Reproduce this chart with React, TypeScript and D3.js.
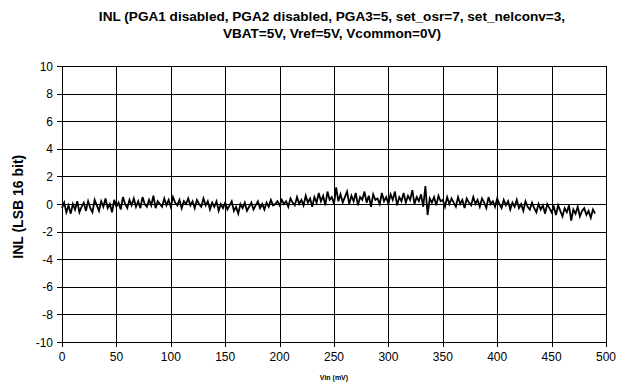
import React from "react";
import * as d3 from "d3";

const titleLines = [
  "INL (PGA1 disabled, PGA2 disabled, PGA3=5, set_osr=7, set_nelconv=3,",
  "VBAT=5V, Vref=5V, Vcommon=0V)",
];
const xTicks = [0, 50, 100, 150, 200, 250, 300, 350, 400, 450, 500];
const yTicks = [-10, -8, -6, -4, -2, 0, 2, 4, 6, 8, 10];
const xLabel = "Vin (mV)";
const yLabel = "INL (LSB 16 bit)";
const vinStep = 2; // mV between samples
const inlValues = [
  -0.3, 0.1, -0.6, -0.1, -0.7, 0.0, -0.4, 0.2, -0.6, -0.2,
  0.1, -0.5, 0.2, -0.3, -0.6, 0.3, -0.1, -0.5, 0.2, -0.2,
  0.4, -0.3, 0.0, -0.6, 0.3, -0.2, 0.1, -0.4, 0.5, 0.0,
  -0.3, 0.3, -0.1, 0.4, -0.2, 0.2, -0.3, 0.5, 0.0, -0.2,
  0.3, -0.1, 0.6, -0.3, 0.2, 0.0, -0.2, 0.4, -0.1, 0.3,
  -0.2, 0.5, 0.1, -0.1, 0.3, -0.3, 0.2, 0.0, 0.4, -0.1,
  0.2, -0.3, 0.3, 0.0, -0.2, 0.4, -0.1, 0.2, -0.4, 0.1,
  -0.2, 0.2, -0.5, 0.0, -0.3, 0.1, -0.4, -0.1, 0.2, -0.5,
  -0.2, -0.7, 0.0, -0.3, 0.1, -0.5, -0.2, 0.1, -0.4, -0.1,
  0.2, -0.3, 0.0, -0.4, 0.1, -0.2, 0.3, -0.1, 0.0, 0.2,
  -0.1, 0.3, 0.0, 0.2, -0.2, 0.4, 0.1, -0.1, 0.5, 0.0,
  0.3, -0.1, 0.6, 0.1, 0.4, -0.2, 0.5, 0.1, 0.8, 0.2,
  0.6, -0.1, 0.9, 0.3, 0.5, 0.0, 1.2, 0.2, 0.7, 0.1,
  0.5, 0.9, 0.0, 0.6, 0.2, 0.8, -0.1, 0.5, 0.3, 0.9,
  0.1, 0.6, -0.2, 0.7, 0.3, 0.4, 0.0, 0.8, 0.2, 0.5,
  0.0, 0.7, 0.3, 0.9, -0.1, 0.5, 0.2, 0.8, 0.1, 0.6,
  0.3, 1.0, 0.0, 0.5, 0.2, 0.7, -0.2, 1.3, -0.8, 0.4,
  0.1, 0.5, -0.1, 0.6, 0.2, 0.3, -0.2, 0.5, 0.0, 0.4,
  0.1, -0.2, 0.5, 0.0, 0.3, -0.3, 0.4, 0.1, -0.1, 0.5,
  0.0, 0.3, -0.2, 0.4, 0.1, -0.3, 0.5, 0.0, 0.2, -0.2,
  0.4, 0.0, -0.3, 0.3, -0.1, 0.2, -0.4, 0.1, -0.2, 0.3,
  -0.3, 0.0, -0.5, 0.2, -0.2, -0.4, 0.1, -0.3, -0.6, 0.0,
  -0.4, -0.1, -0.7, 0.0, -0.3, -0.6, -0.2, -0.8, -0.1, -0.5,
  -0.9, -0.3, -0.6, -0.1, -1.2, -0.4, -0.7, -0.2, -0.9, -0.5,
  -0.3, -0.8, -0.5, -1.0, -0.4, -0.7,
];

const W = 623;
const H = 383;
const FONT = "'Liberation Sans', Arial, sans-serif";

export default function App() {
  const x = d3.scaleLinear().domain([0, 500]).range([62, 606]);
  const y = d3.scaleLinear().domain([-10, 10]).range([342, 66]);
  const data = inlValues.map((v, i) => [i * vinStep, v] as [number, number]);
  const line = d3
    .line<[number, number]>()
    .x((d) => x(d[0]))
    .y((d) => y(d[1]));

  return (
    <svg
      width={W}
      height={H}
      style={{ position: "absolute", left: 0, top: 0, background: "#fff" }}
      fontFamily={FONT}
    >
      <rect x={0} y={0} width={W} height={H} fill="#fff" />
      {titleLines.map((t, i) => (
        <text
          key={i}
          x={332}
          y={21 + i * 17}
          textAnchor="middle"
          fontSize={13.6}
          fontWeight="bold"
        >
          {t}
        </text>
      ))}
      {yTicks.map((t) => (
        <line
          key={"gy" + t}
          x1={x(0) - 5}
          x2={x(500)}
          y1={Math.round(y(t)) + 0.5}
          y2={Math.round(y(t)) + 0.5}
          stroke="#000"
          strokeWidth={1}
        />
      ))}
      {xTicks.map((t) => (
        <line
          key={"gx" + t}
          x1={Math.round(x(t)) + 0.5}
          x2={Math.round(x(t)) + 0.5}
          y1={y(10)}
          y2={y(-10) + 5}
          stroke="#000"
          strokeWidth={1}
        />
      ))}
      {yTicks.map((t) => (
        <text
          key={"ty" + t}
          x={53}
          y={y(t) + 4.5}
          textAnchor="end"
          fontSize={12}
        >
          {t}
        </text>
      ))}
      {xTicks.map((t) => (
        <text
          key={"tx" + t}
          x={x(t)}
          y={y(-10) + 19}
          textAnchor="middle"
          fontSize={12}
        >
          {t}
        </text>
      ))}
      <text
        x={x(250)}
        y={380}
        textAnchor="middle"
        fontSize={7}
        fontWeight="bold"
      >
        {xLabel}
      </text>
      <text
        transform={`translate(23,${y(-0.2)}) rotate(-90)`}
        textAnchor="middle"
        fontSize={14}
        fontWeight="bold"
      >
        {yLabel}
      </text>
      <path d={line(data) || ""} fill="none" stroke="#000" strokeWidth={1.8} />
    </svg>
  );
}
